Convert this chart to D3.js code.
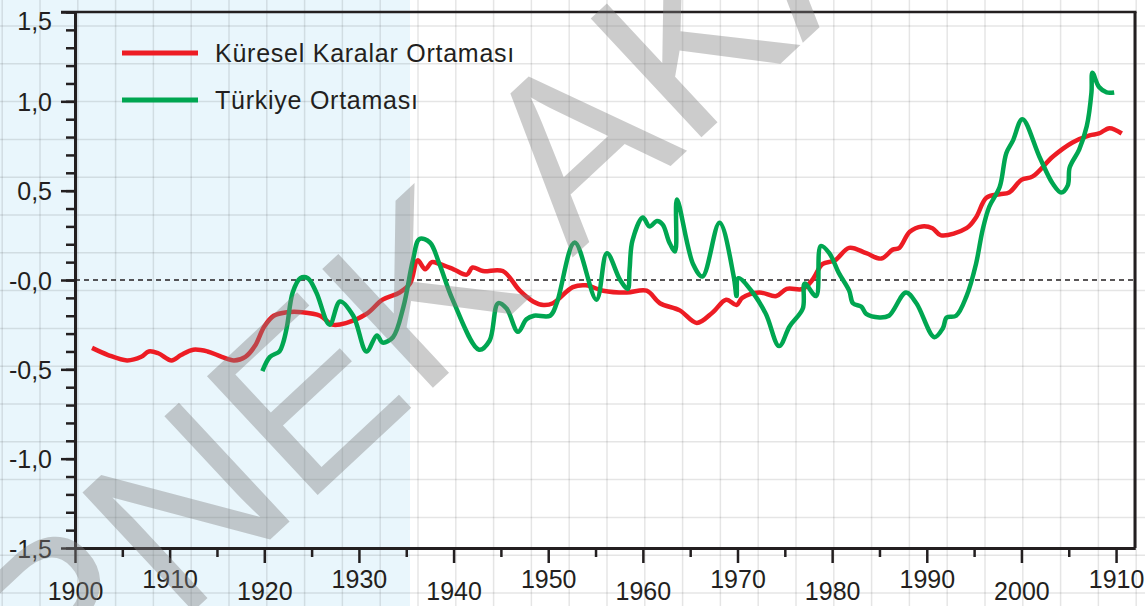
<!DOCTYPE html>
<html>
<head>
<meta charset="utf-8">
<script src="https://cdn.jsdelivr.net/npm/d3@7"></script>
<style>
  body { margin: 0; background: #ffffff; }
  svg { display: block; font-family: "Liberation Sans", Arial, sans-serif; }
  .tick text { fill: #231f20; }
</style>
</head>
<body>
<svg id="canvas"></svg>
<script>
////////////////////////////////////////////////////////////////////////////////
// Chart data.
////////////////////////////////////////////////////////////////////////////////

// Global average (red) : years and anomaly values.
var globalYears = [1901.8, 1903.5, 1905.5, 1907.0, 1907.8, 1908.8, 1910.2, 1911.2,
  1912.5, 1914.0, 1915.5, 1916.8, 1918.0, 1919.0, 1920.0, 1921.0, 1922.4, 1924.0,
  1925.9, 1927.2, 1928.7, 1930.8, 1932.5, 1934.3, 1935.4, 1936.2, 1937.0, 1937.7,
  1938.5, 1940.0, 1941.4, 1942.0, 1943.1, 1945.2, 1947.0, 1948.4, 1949.5, 1950.5,
  1952.6, 1954.0, 1955.8, 1958.3, 1960.4, 1961.8, 1963.9, 1965.7, 1967.4, 1968.8,
  1969.9, 1970.5, 1972.3, 1974.1, 1975.2, 1976.9, 1977.9, 1979.0, 1980.3, 1981.8,
  1983.6, 1985.2, 1986.4, 1987.1, 1988.2, 1989.5, 1990.6, 1991.5, 1994.2, 1995.2,
  1996.3, 1997.7, 1998.7, 2000.0, 2001.2, 2003.3, 2005.4, 2007.2, 2008.2, 2009.3,
  2010.6];
var globalValues = [-0.38, -0.42, -0.45, -0.43, -0.40, -0.41, -0.45, -0.42,
  -0.39, -0.40, -0.43, -0.45, -0.43, -0.37, -0.26, -0.20, -0.18, -0.18,
  -0.20, -0.25, -0.24, -0.19, -0.11, -0.07, -0.02, 0.11, 0.06, 0.10,
  0.09, 0.06, 0.03, 0.07, 0.05, 0.05, -0.06, -0.12, -0.14, -0.13,
  -0.04, -0.03, -0.06, -0.07, -0.06, -0.13, -0.17, -0.24, -0.18, -0.11,
  -0.14, -0.10, -0.07, -0.09, -0.05, -0.05, 0.00, 0.09, 0.11, 0.18,
  0.15, 0.12, 0.17, 0.18, 0.27, 0.30, 0.29, 0.25, 0.29, 0.35,
  0.46, 0.48, 0.49, 0.56, 0.58, 0.69, 0.77, 0.81, 0.82, 0.85,
  0.82];

// Turkey average (green) : years and anomaly values.
var turkeyYears = [1919.8, 1920.6, 1921.6, 1922.0, 1922.4, 1923.0, 1923.8, 1924.6,
  1925.5, 1926.9, 1928.0, 1929.4, 1930.8, 1931.9, 1932.5, 1933.6, 1934.7, 1935.7,
  1936.4, 1937.5, 1938.5, 1939.9, 1942.7, 1943.8, 1944.7, 1945.6, 1946.8, 1947.7,
  1948.5, 1950.2, 1950.9, 1952.8, 1955.1, 1956.2, 1957.6, 1958.4, 1958.6, 1958.9,
  1960.0, 1960.7, 1961.5, 1962.1, 1962.8, 1963.4, 1963.6, 1965.3, 1966.3, 1968.1,
  1969.6, 1969.9, 1970.1, 1971.6, 1973.0, 1974.4, 1975.5, 1976.9, 1977.1, 1978.3,
  1978.8, 1979.7, 1980.7, 1981.8, 1982.2, 1983.1, 1983.6, 1985.0, 1986.0, 1987.8,
  1988.9, 1990.8, 1991.7, 1992.1, 1993.1, 1994.2, 1995.2, 1995.9, 1996.6, 1997.7,
  1998.4, 1999.1, 2000.1, 2001.9, 2003.3, 2004.2, 2004.9, 2005.1, 2006.1, 2006.9,
  2007.4, 2007.5, 2008.2, 2009.0, 2009.8];
var turkeyValues = [-0.51, -0.43, -0.40, -0.35, -0.26, -0.07, 0.01, 0.01,
  -0.07, -0.25, -0.12, -0.20, -0.40, -0.31, -0.35, -0.32, -0.15, 0.11,
  0.23, 0.21, 0.09, -0.11, -0.39, -0.34, -0.13, -0.16, -0.29, -0.22,
  -0.20, -0.20, -0.13, 0.21, -0.11, 0.15, 0.00, -0.05, 0.06, 0.22,
  0.35, 0.30, 0.33, 0.31, 0.21, 0.16, 0.45, 0.09, 0.02, 0.32,
  0.02, -0.09, 0.01, -0.07, -0.19, -0.37, -0.26, -0.16, -0.02, -0.09,
  0.19, 0.15, 0.04, -0.06, -0.13, -0.15, -0.19, -0.21, -0.20, -0.07,
  -0.13, -0.32, -0.27, -0.21, -0.20, -0.09, 0.09, 0.28, 0.41, 0.52,
  0.71, 0.78, 0.90, 0.69, 0.54, 0.49, 0.53, 0.63, 0.73, 0.86,
  1.05, 1.16, 1.08, 1.05, 1.05];

// Axis ticks and labels.
var xTickValues = [1900, 1910, 1920, 1930, 1940, 1950, 1960, 1970, 1980, 1990, 2000, 2010];
var xTickLabels = ['1900', '1910', '1920', '1930', '1940', '1950', '1960', '1970', '1980', '1990', '2000', '1910'];
var xMinorValues = [1905, 1915, 1925, 1935, 1945, 1955, 1965, 1975, 1985, 1995, 2005];
var yTickValues = [1.5, 1.0, 0.5, 0, -0.5, -1.0, -1.5];
var yTickLabels = ['1,5', '1,0', '0,5', '-0,0', '-0,5', '-1,0', '-1,5'];

// Legend.
var seriesNames = ['Küresel Karalar Ortaması', 'Türkiye Ortaması'];
var watermarkText = 'ÖRNEK AKADEMİ';

////////////////////////////////////////////////////////////////////////////////
// Canvas and graph properties.
////////////////////////////////////////////////////////////////////////////////
var canvas = {
  width: 1145,
  height: 606
};

var graph = {
  left: 75,
  right: 1135,
  top: 12,
  bottom: 548,
  colour: {
    global: '#ed1c24',
    turkey: '#00a651',
    ink: '#231f20',
    shade: '#e9f6fc'
  }
};

var translation = function(x, y, r) {
  return 'translate(' + x + ',' + y + ')' + 'rotate(' + (r || 0) + ')';
};

var svg = d3.select('#canvas')
            .attr('width', canvas.width)
            .attr('height', canvas.height);

// Scales.
var xScale = d3.scaleLinear().domain([1900, 2012]).range([graph.left, graph.right]);
var yScale = d3.scaleLinear().domain([-1.5, 1.5]).range([graph.bottom, graph.top]);

// Shaded period (up to ~1935.5), full height.
svg.append('rect')
   .attr('x', 0)
   .attr('y', 0)
   .attr('width', xScale(1935.4))
   .attr('height', canvas.height)
   .style('fill', graph.colour.shade);

// Graph paper grid over whole canvas.
var gridStep = 37.8;
var grid = svg.append('g');
grid.selectAll('.vgrid')
    .data(d3.range(2.2, canvas.width, gridStep))
    .enter().append('line')
    .attr('x1', function(d) { return d; })
    .attr('x2', function(d) { return d; })
    .attr('y1', 0)
    .attr('y2', canvas.height)
    .style('stroke', '#000').style('stroke-opacity', 0.1).style('stroke-width', 1.5);
grid.selectAll('.hgrid')
    .data(d3.range(26, canvas.height, gridStep))
    .enter().append('line')
    .attr('x1', 0)
    .attr('x2', canvas.width)
    .attr('y1', function(d) { return d; })
    .attr('y2', function(d) { return d; })
    .style('stroke', '#000').style('stroke-opacity', 0.1).style('stroke-width', 1.5);

// Zero line.
svg.append('line')
   .attr('x1', graph.left)
   .attr('x2', graph.right)
   .attr('y1', yScale(0))
   .attr('y2', yScale(0))
   .style('stroke', graph.colour.ink)
   .style('stroke-width', 1.6)
   .style('stroke-dasharray', '5,4');

// Series lines.
var globalData = globalYears.map(function(y, i) { return [y, globalValues[i]]; });
var turkeyData = turkeyYears.map(function(y, i) { return [y, turkeyValues[i]]; });

var smoothLine = d3.line()
                   .x(function(d) { return xScale(d[0]); })
                   .y(function(d) { return yScale(d[1]); })
                   .curve(d3.curveCatmullRom.alpha(0.5));

svg.append('path')
   .datum(globalData)
   .attr('d', smoothLine)
   .style('fill', 'none')
   .style('stroke', graph.colour.global)
   .style('stroke-width', 4.5)
   .style('stroke-linejoin', 'round');

svg.append('path')
   .datum(turkeyData)
   .attr('d', smoothLine)
   .style('fill', 'none')
   .style('stroke', graph.colour.turkey)
   .style('stroke-width', 4.5)
   .style('stroke-linejoin', 'miter')
   .style('stroke-miterlimit', 3);

////////////////////////////////////////////////////////////////////////////////
// Axes.
////////////////////////////////////////////////////////////////////////////////
function styleAxis(g) {
  g.select('.domain').style('stroke', graph.colour.ink).style('stroke-width', 3);
  g.selectAll('.tick line').style('stroke', graph.colour.ink).style('stroke-width', 2.5);
  g.selectAll('.tick text').style('font-size', '25px').style('font-family', '"Liberation Sans", Arial, sans-serif');
}

// Minor ticks first.
svg.append('g')
   .attr('transform', translation(graph.left, 0))
   .call(d3.axisLeft(yScale)
           .tickValues(d3.range(-15, 16).map(function(d) { return d / 10; }))
           .tickSize(9).tickSizeOuter(0).tickFormat(''))
   .call(styleAxis);

svg.append('g')
   .attr('transform', translation(0, graph.bottom))
   .call(d3.axisBottom(xScale).tickValues(xMinorValues).tickSize(9).tickSizeOuter(0).tickFormat(''))
   .call(styleAxis);

// Major y axis.
var yAxis = svg.append('g')
   .attr('transform', translation(graph.left, 0))
   .call(d3.axisLeft(yScale)
           .tickValues(yTickValues)
           .tickSize(14).tickSizeOuter(0).tickPadding(9)
           .tickFormat(function(d, i) { return yTickLabels[i]; }))
   .call(styleAxis);
yAxis.selectAll('.tick text')
     .attr('dy', function(d) { return d === 1.5 ? '0.68em' : '0.36em'; });

// Major x axis with staggered labels.
var xAxis = svg.append('g')
   .attr('transform', translation(0, graph.bottom))
   .call(d3.axisBottom(xScale)
           .tickValues(xTickValues)
           .tickSize(15).tickSizeOuter(0)
           .tickFormat(function(d, i) { return xTickLabels[i]; }))
   .call(styleAxis);
xAxis.selectAll('.tick text')
     .attr('y', function(d, i) { return i % 2 === 0 ? 34 : 22; })
     .attr('dy', '0.71em');

// Frame: top and right border.
svg.append('line')
   .attr('x1', graph.left - 14).attr('x2', graph.right + 1.5)
   .attr('y1', graph.top).attr('y2', graph.top)
   .style('stroke', graph.colour.ink).style('stroke-width', 2.5);
svg.append('line')
   .attr('x1', graph.right).attr('x2', graph.right)
   .attr('y1', graph.top).attr('y2', graph.bottom)
   .style('stroke', graph.colour.ink).style('stroke-width', 3);

////////////////////////////////////////////////////////////////////////////////
// Legend.
////////////////////////////////////////////////////////////////////////////////
var legend = svg.selectAll('.legend')
                .data(seriesNames)
                .enter().append('g')
                .attr('class', 'legend')
                .attr('transform', function(d, i) { return translation(122, 53 + i * 47); });

legend.append('line')
      .attr('x1', 0).attr('x2', 76)
      .attr('y1', 0).attr('y2', 0)
      .style('stroke', function(d, i) { return i === 0 ? graph.colour.global : graph.colour.turkey; })
      .style('stroke-width', 5);

legend.append('text')
      .attr('x', 93)
      .attr('y', 9)
      .style('font-size', '25px')
      .style('letter-spacing', '0.75px')
      .style('fill', graph.colour.ink)
      .text(function(d) { return d; });

////////////////////////////////////////////////////////////////////////////////
// Watermark on top.
////////////////////////////////////////////////////////////////////////////////
svg.append('text')
   .attr('transform', translation(-80, 866, -43))
   .style('font-size', '236px')
   .style('fill', '#7f7f7f')
   .style('fill-opacity', 0.4)
   .text(watermarkText);
</script>
</body>
</html>
